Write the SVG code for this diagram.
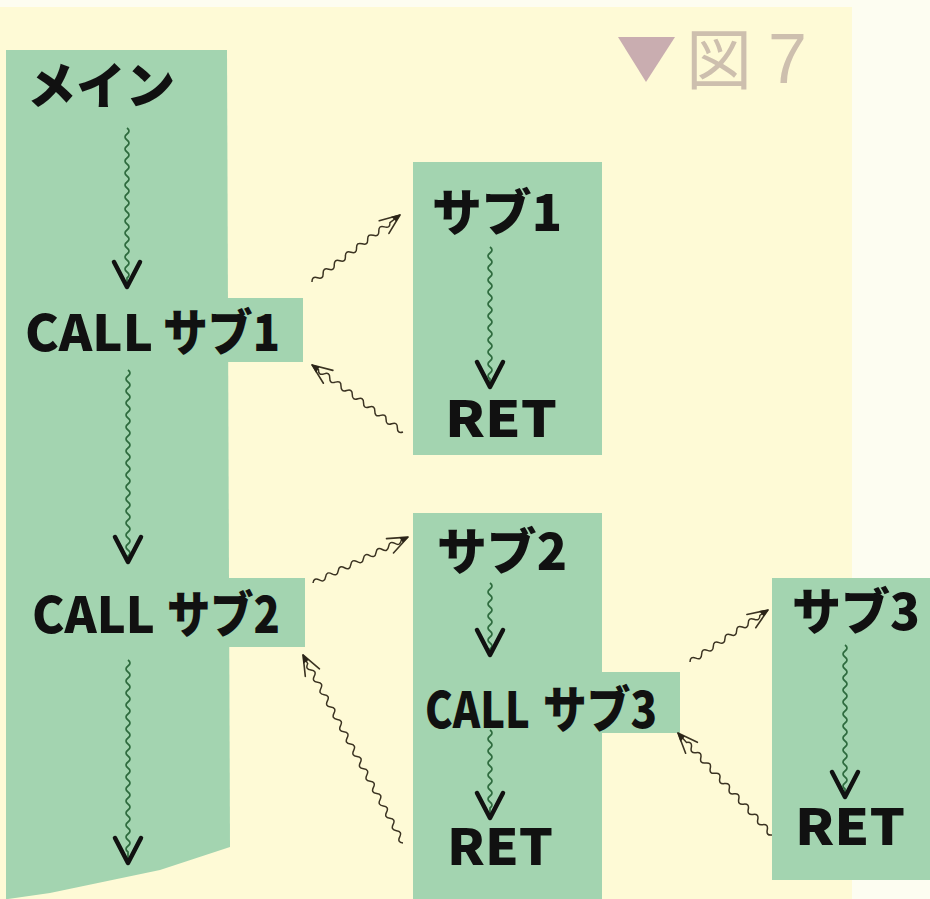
<svg xmlns="http://www.w3.org/2000/svg" width="930" height="899" viewBox="0 0 930 899">
<style>
.bg{fill:#fdfdf1}
.cream{fill:#fefad6}
.box{fill:#a3d4b0}
.t{font-family:"Noto Sans CJK JP","Noto Sans",sans-serif;font-weight:900;font-size:50px;fill:#111}
.flow{fill:none;stroke:#2e6b3e;stroke-width:1.7;marker-end:url(#v)}
.link{fill:none;stroke:#3b3322;stroke-width:1.5;marker-end:url(#o)}
.title{fill:#cdbfae}
</style>
<defs>
<marker id="v" markerUnits="userSpaceOnUse" markerWidth="60" markerHeight="60" viewBox="-30 -30 60 60" refX="0" refY="0" orient="auto">
<path d="M-25,-13 L0,0 L-25,13" fill="none" stroke="#111" stroke-width="4.5" stroke-linejoin="round" stroke-linecap="round"/>
</marker>
<marker id="o" markerUnits="userSpaceOnUse" markerWidth="30" markerHeight="30" viewBox="-25 -15 30 30" refX="0" refY="0" orient="auto">
<path d="M0,0 L-20,-8 M0,0 L-20,8" fill="none" stroke="#3b3322" stroke-width="1.6" stroke-linecap="round"/>
<path d="M1,0 L-8,-4 L-7,3 Z" fill="#2b2418"/>
</marker>
</defs>

<rect class="bg" x="0" y="0" width="930" height="899"/>
<rect class="cream" x="0" y="7" width="852" height="892"/>

<g id="title">
<polygon points="618,37 675,37 646,82" fill="#c9adb0"/>
<text x="686" y="84" class="title" style="font-family:'Noto Sans CJK JP',sans-serif;font-size:66px">図</text>
<text x="768" y="83" class="title" style="font-family:'Liberation Sans',sans-serif;font-size:70px">7</text>
</g>

<g id="main">
<polygon class="box" points="6,50 227,50 230,847 160,870 50,893 8,899 6,899"/>
<text class="t" x="27" y="104" textLength="148" lengthAdjust="spacingAndGlyphs">メイン</text>
</g>
<g id="call-sub1">
<rect class="box" x="224" y="298" width="79" height="64"/>
<text class="t" x="25" y="351" textLength="128" lengthAdjust="spacingAndGlyphs">CALL</text>
<text class="t" x="163" y="351" textLength="117" lengthAdjust="spacingAndGlyphs">サブ1</text>
</g>
<g id="call-sub2">
<rect class="box" x="226" y="578" width="79" height="69"/>
<text class="t" x="32" y="633" textLength="123" lengthAdjust="spacingAndGlyphs">CALL</text>
<text class="t" x="167" y="633" textLength="113" lengthAdjust="spacingAndGlyphs">サブ2</text>
</g>
<g id="sub1">
<rect class="box" x="413" y="162" width="189" height="293"/>
<text class="t" x="432" y="231" textLength="130" lengthAdjust="spacingAndGlyphs">サブ1</text>
</g>
<g id="ret1">
<text class="t" x="445" y="437" textLength="112" lengthAdjust="spacingAndGlyphs">RET</text>
</g>
<g id="sub2">
<rect class="box" x="413" y="513" width="189" height="386"/>
<text class="t" x="437" y="570" textLength="130" lengthAdjust="spacingAndGlyphs">サブ2</text>
</g>
<g id="call-sub3">
<rect class="box" x="600" y="672" width="80" height="61"/>
<text class="t" x="425" y="728" textLength="105" lengthAdjust="spacingAndGlyphs">CALL</text>
<text class="t" x="543" y="728" textLength="114" lengthAdjust="spacingAndGlyphs">サブ3</text>
</g>
<g id="ret2">
<text class="t" x="447" y="865" textLength="106" lengthAdjust="spacingAndGlyphs">RET</text>
</g>
<g id="sub3">
<rect class="box" x="772" y="578" width="158" height="302"/>
<text class="t" x="792" y="630" textLength="128" lengthAdjust="spacingAndGlyphs">サブ3</text>
</g>
<g id="ret3">
<text class="t" x="795" y="845" textLength="110" lengthAdjust="spacingAndGlyphs">RET</text>
</g>

<g id="connectors">
<path class="flow" transform="translate(127,128) rotate(90)" d="M0,0 q3,-4 6,0 t6,0 6,0 6,0 6,0 6,0 6,0 6,0 6,0 6,0 6,0 6,0 6,0 6,0 6,0 6,0 6,0 6,0 6,0 6,0 6,0 6,0 6,0 6,0 6,0 h9"/>
<path class="flow" transform="translate(128,370) rotate(90)" d="M0,0 q3,-4 6,0 t6,0 6,0 6,0 6,0 6,0 6,0 6,0 6,0 6,0 6,0 6,0 6,0 6,0 6,0 6,0 6,0 6,0 6,0 6,0 6,0 6,0 6,0 6,0 6,0 6,0 6,0 6,0 6,0 6,0 6,0 h6"/>
<path class="flow" transform="translate(128,660) rotate(90)" d="M0,0 q3,-4 6,0 t6,0 6,0 6,0 6,0 6,0 6,0 6,0 6,0 6,0 6,0 6,0 6,0 6,0 6,0 6,0 6,0 6,0 6,0 6,0 6,0 6,0 6,0 6,0 6,0 6,0 6,0 6,0 6,0 6,0 6,0 6,0 h11"/>
<path class="flow" transform="translate(490,247) rotate(90)" d="M0,0 q3,-4 6,0 t6,0 6,0 6,0 6,0 6,0 6,0 6,0 6,0 6,0 6,0 6,0 6,0 6,0 6,0 6,0 6,0 6,0 6,0 6,0 6,0 6,0 h8"/>
<path class="flow" transform="translate(490,583) rotate(90)" d="M0,0 q3,-4 6,0 t6,0 6,0 6,0 6,0 6,0 6,0 6,0 6,0 6,0 6,0 h6"/>
<path class="flow" transform="translate(490,730) rotate(90)" d="M0,0 q3,-4 6,0 t6,0 6,0 6,0 6,0 6,0 6,0 6,0 6,0 6,0 6,0 6,0 6,0 h10"/>
<path class="flow" transform="translate(845,645) rotate(90)" d="M0,0 q3,-4 6,0 t6,0 6,0 6,0 6,0 6,0 6,0 6,0 6,0 6,0 6,0 6,0 6,0 6,0 6,0 6,0 6,0 6,0 6,0 6,0 6,0 6,0 6,0 6,0 h8"/>

<path class="link" transform="translate(312,282) rotate(-37.3)" d="M0,0 q3.5,-5 7,0 t7,0 7,0 7,0 7,0 7,0 7,0 7,0 7,0 7,0 7,0 7,0 7,0 7,0 h12.6"/>
<path class="link" transform="translate(403,432) rotate(-143.6)" d="M0,0 q3.5,-5 7,0 t7,0 7,0 7,0 7,0 7,0 7,0 7,0 7,0 7,0 7,0 7,0 7,0 7,0 7,0 h8"/>
<path class="link" transform="translate(313,583) rotate(-25.8)" d="M0,0 q3.5,-5 7,0 t7,0 7,0 7,0 7,0 7,0 7,0 7,0 7,0 7,0 7,0 7,0 7,0 7,0 h7.5"/>
<path class="link" transform="translate(403,843) rotate(-118)" d="M0,0 q3.5,-5 7,0 t7,0 7,0 7,0 7,0 7,0 7,0 7,0 7,0 7,0 7,0 7,0 7,0 7,0 7,0 7,0 7,0 7,0 7,0 7,0 7,0 7,0 7,0 7,0 7,0 7,0 7,0 7,0 7,0 h10"/>
<path class="link" transform="translate(690,662) rotate(-33.7)" d="M0,0 q3.5,-5 7,0 t7,0 7,0 7,0 7,0 7,0 7,0 7,0 7,0 7,0 7,0 7,0 h9.7"/>
<path class="link" transform="translate(772,835) rotate(-132.7)" d="M0,0 q3.5,-5 7,0 t7,0 7,0 7,0 7,0 7,0 7,0 7,0 7,0 7,0 7,0 7,0 7,0 7,0 7,0 7,0 7,0 7,0 h12.7"/>
</g>
</svg>
